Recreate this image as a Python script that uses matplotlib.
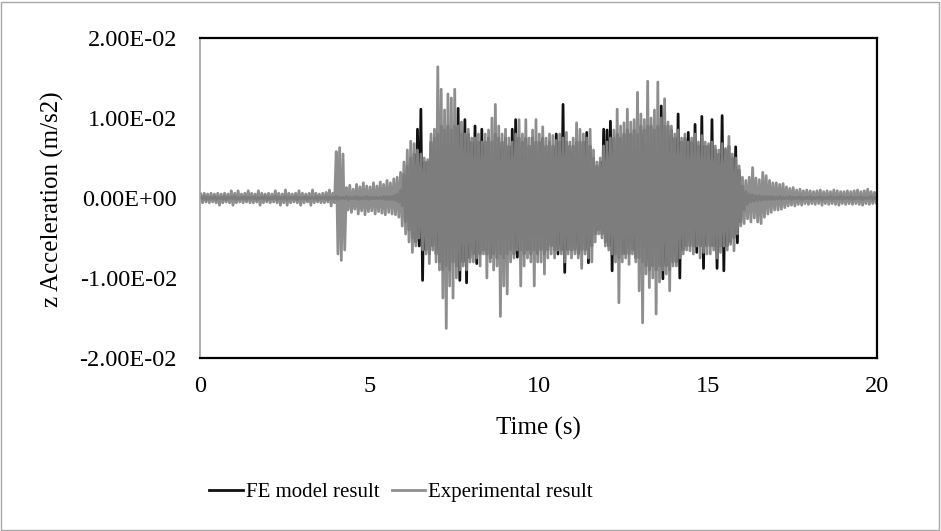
import numpy as np
import matplotlib
matplotlib.use("Agg")
import matplotlib.pyplot as plt
from matplotlib.patches import Rectangle

# Peak values per 0.1 s window (x 1e-3 m/s2): one up-swing and one down-swing each
exp_up = [
    0.5, 0.6, 0.5, 0.6, 0.5, 0.6, 0.5, 0.6, 0.5, 0.9,
    0.6, 0.9, 0.5, 0.6, 0.9, 0.6, 0.5, 0.9, 0.6, 0.5,
    0.6, 0.5, 0.9, 0.6, 0.5, 1.0, 0.6, 0.5, 0.6, 0.9,
    0.6, 0.5, 0.6, 1.0, 0.6, 0.5, 0.6, 0.7, 1.0, 0.6,
    5.8, 6.3, 5.5, 1.3, 1.6, 1.1, 1.7, 1.4, 1.9, 1.5,
    1.4, 1.9, 1.5, 2.0, 1.7, 2.2, 1.9, 2.4, 2.6, 3.2,
    4.5, 6.0, 7.1, 6.8, 6.0, 5.5, 5.0, 4.8, 8.0, 8.6,
    16.4, 13.6, 11.0, 13.0, 12.5, 13.6, 9.0, 9.5, 8.0, 8.6,
    7.5, 7.5, 8.0, 7.0, 8.0, 8.5, 10.0, 11.7, 9.0, 8.0,
    8.6, 7.5, 7.0, 8.0, 9.8, 8.0, 9.8, 7.5, 8.5, 9.8,
    8.0, 8.9, 7.5, 8.0, 7.8, 7.2, 8.0, 7.5, 8.2, 7.0,
    7.5, 9.4, 8.6, 8.0, 7.5, 8.6, 6.0, 4.5, 5.0, 6.5,
    7.0, 7.5, 8.5, 11.1, 9.0, 9.4, 11.1, 9.5, 9.8, 13.2,
    10.5, 9.8, 14.6, 10.0, 11.0, 14.5, 10.0, 12.4, 9.5, 9.0,
    8.0, 8.5, 7.5, 8.0, 7.0, 7.5, 8.0, 7.0, 7.8, 7.0,
    6.8, 7.0, 6.5, 6.0, 6.8, 6.2, 7.7, 5.5, 5.0, 4.0,
    2.6, 2.2, 2.6, 3.8, 2.5, 2.3, 3.2, 2.8, 2.2, 1.9,
    1.9, 1.7, 1.8, 1.4, 1.2, 1.3, 1.0, 1.1, 0.9, 1.0,
    0.9, 0.8, 0.9, 1.0, 0.8, 0.9, 0.8, 1.0, 0.9, 0.8,
    0.8, 0.9, 0.8, 0.9, 1.0, 0.8, 0.9, 1.1, 0.8, 0.7,
]
exp_dn = [
    -0.6, -0.5, -0.6, -0.5, -0.6, -0.9, -0.6, -0.5, -0.6, -0.9,
    -0.6, -0.5, -0.6, -0.5, -0.6, -0.6, -0.5, -0.9, -0.6, -0.5,
    -0.6, -0.5, -0.6, -0.9, -0.6, -0.9, -0.6, -0.5, -0.6, -0.9,
    -0.6, -0.5, -0.9, -0.6, -0.5, -0.6, -0.6, -0.5, -1.0, -0.6,
    -7.0, -7.8, -6.5, -1.5, -1.8, -1.4, -2.0, -1.6, -2.1, -1.7,
    -1.6, -2.0, -1.7, -1.9, -2.1, -1.8, -2.0, -2.1, -2.4, -3.5,
    -4.5, -5.5, -6.8, -6.0, -5.0, -6.5, -7.0, -8.2, -6.5, -8.0,
    -9.0, -12.5, -16.3, -11.0, -12.5, -10.0, -9.0, -8.5, -9.0, -8.0,
    -8.0, -7.5, -8.5, -7.0, -10.0, -8.0, -9.0, -8.5, -14.8, -11.0,
    -12.0, -8.0, -7.5, -6.5, -11.0, -8.5, -7.5, -8.0, -11.0, -8.0,
    -8.0, -9.5, -7.5, -7.0, -7.5, -6.5, -7.0, -8.0, -7.0, -7.5,
    -7.0, -7.5, -8.8, -7.0, -7.5, -8.0, -5.5, -4.5, -5.0, -6.0,
    -6.5, -7.0, -8.0, -13.1, -8.0, -7.5, -8.3, -7.0, -8.0, -11.6,
    -15.6, -9.5, -11.2, -10.0, -14.5, -10.5, -9.0, -9.5, -11.6, -8.5,
    -8.5, -7.5, -7.0, -6.5, -6.6, -7.0, -6.0, -7.5, -6.8, -7.0,
    -7.0, -6.5, -7.5, -6.8, -6.0, -6.5, -5.8, -6.6, -4.5, -3.5,
    -3.2, -2.6, -3.0, -2.5, -3.0, -3.2, -2.4, -2.0, -1.8, -1.5,
    -1.5, -1.4, -1.2, -1.0, -0.9, -1.0, -0.8, -0.9, -0.7, -0.8,
    -0.7, -0.8, -0.7, -0.9, -0.7, -0.8, -0.7, -0.8, -0.9, -0.7,
    -0.8, -0.7, -0.8, -0.7, -0.8, -0.9, -0.7, -0.8, -0.7, -0.6,
]
fe_up = [
    0.1, 0.2, 0.1, 0.1, 0.2, 0.1, 0.1, 0.2, 0.1, 0.1,
    0.2, 0.1, 0.1, 0.2, 0.1, 0.1, 0.2, 0.1, 0.1, 0.2,
    0.1, 0.1, 0.2, 0.1, 0.1, 0.2, 0.1, 0.1, 0.2, 0.1,
    0.1, 0.2, 0.1, 0.1, 0.2, 0.1, 0.1, 0.2, 0.1, 0.1,
    0.2, 0.1, 0.1, 0.2, 0.1, 0.1, 0.2, 0.1, 0.1, 0.2,
    0.1, 0.1, 0.1, 0.1, 0.2, 0.2, 0.2, 0.3, 0.5, 1.0,
    3.0, 4.0, 5.0, 5.5, 8.6, 11.1, 4.5, 4.5, 7.0, 7.5,
    8.0, 9.0, 8.5, 9.0, 8.5, 9.0, 11.2, 8.0, 9.8, 8.0,
    7.0, 9.0, 7.0, 8.6, 7.0, 7.5, 7.0, 8.0, 7.5, 7.0,
    7.5, 6.5, 8.6, 9.8, 7.5, 7.0, 7.5, 6.5, 7.5, 7.0,
    7.0, 7.5, 6.5, 7.0, 6.5, 8.0, 7.0, 11.7, 7.0, 6.5,
    6.5, 7.0, 7.0, 7.0, 8.2, 6.5, 5.0, 4.0, 4.5, 8.6,
    8.5, 9.6, 7.5, 8.0, 7.5, 8.0, 8.5, 8.0, 8.5, 8.0,
    9.0, 8.5, 9.0, 9.0, 8.5, 9.0, 11.5, 9.0, 9.0, 8.5,
    7.5, 10.5, 7.0, 7.5, 8.2, 7.0, 9.2, 6.5, 10.2, 6.5,
    6.5, 9.8, 6.0, 5.5, 10.3, 6.0, 6.5, 5.0, 6.4, 3.5,
    1.5, 0.8, 0.5, 0.4, 0.3, 0.3, 0.2, 0.2, 0.2, 0.2,
    0.1, 0.2, 0.1, 0.1, 0.2, 0.1, 0.1, 0.2, 0.1, 0.1,
    0.2, 0.1, 0.1, 0.2, 0.1, 0.1, 0.2, 0.1, 0.1, 0.2,
    0.1, 0.1, 0.2, 0.1, 0.1, 0.2, 0.1, 0.1, 0.2, 0.1,
]
fe_dn = [
    -0.1, -0.2, -0.1, -0.1, -0.2, -0.1, -0.1, -0.2, -0.1, -0.1,
    -0.2, -0.1, -0.1, -0.2, -0.1, -0.1, -0.2, -0.1, -0.1, -0.2,
    -0.1, -0.1, -0.2, -0.1, -0.1, -0.2, -0.1, -0.1, -0.2, -0.1,
    -0.1, -0.2, -0.1, -0.1, -0.2, -0.1, -0.1, -0.2, -0.1, -0.1,
    -0.2, -0.1, -0.1, -0.2, -0.1, -0.1, -0.2, -0.1, -0.1, -0.2,
    -0.1, -0.1, -0.1, -0.1, -0.2, -0.2, -0.2, -0.3, -0.5, -1.0,
    -3.0, -4.0, -5.0, -5.5, -6.0, -10.3, -6.5, -7.0, -6.0, -7.0,
    -8.0, -9.0, -8.5, -9.0, -8.0, -8.5, -10.3, -8.0, -10.6, -7.5,
    -7.0, -8.2, -7.0, -6.5, -7.0, -7.5, -7.0, -7.5, -7.0, -7.5,
    -7.0, -6.5, -7.0, -7.4, -6.5, -7.0, -6.5, -7.0, -6.5, -7.0,
    -6.5, -7.0, -6.5, -6.0, -6.5, -7.0, -6.5, -9.3, -6.5, -6.5,
    -6.5, -7.0, -6.5, -6.5, -8.1, -6.0, -4.5, -4.0, -4.5, -5.5,
    -6.0, -9.1, -7.0, -7.5, -7.0, -7.0, -7.0, -6.5, -7.5, -7.5,
    -8.0, -8.5, -9.0, -8.5, -9.0, -8.5, -10.1, -8.5, -9.0, -8.0,
    -8.0, -10.0, -6.5, -6.0, -6.0, -6.0, -6.8, -6.0, -8.8, -6.0,
    -6.0, -6.0, -8.8, -6.0, -9.1, -6.0, -5.5, -5.0, -5.6, -3.0,
    -1.5, -0.8, -0.5, -0.4, -0.3, -0.3, -0.2, -0.2, -0.2, -0.2,
    -0.1, -0.2, -0.1, -0.1, -0.2, -0.1, -0.1, -0.2, -0.1, -0.1,
    -0.2, -0.1, -0.1, -0.2, -0.1, -0.1, -0.2, -0.1, -0.1, -0.2,
    -0.1, -0.1, -0.2, -0.1, -0.1, -0.2, -0.1, -0.1, -0.2, -0.1,
]

x_ticks = [0, 5, 10, 15, 20]
y_ticks = [-0.02, -0.01, 0.0, 0.01, 0.02]

WIN = 0.1  # seconds per window


def to_trace(up, dn):
    # up-swing in the first half of each window, down-swing in the second
    start = np.arange(len(up)) * WIN
    t = np.column_stack([start + WIN * 0.25, start + WIN * 0.75]).ravel()
    a = np.column_stack([up, dn]).ravel() * 1e-3
    return t, a


t_fe, a_fe = to_trace(fe_up, fe_dn)
t_exp, a_exp = to_trace(exp_up, exp_dn)

plt.rcParams["font.family"] = ["Liberation Serif", "DejaVu Serif"]

fig = plt.figure(figsize=(9.41, 5.31), dpi=100)
ax = fig.add_axes([200 / 941, 1 - 358 / 531, 677 / 941, 320 / 531])

ax.plot(t_fe, a_fe, color="#111111", lw=2.0, label="FE model result")
# slightly see-through so the FE trace darkens the middle of the band
ax.plot(t_exp, a_exp, color="#868686", alpha=0.93, lw=2.0, label="Experimental result")

ax.set_xlim(0, 20)
ax.set_ylim(-0.02, 0.02)
ax.set_xticks(x_ticks)
ax.set_yticks(y_ticks)
ax.set_yticklabels(["%.2E" % v for v in y_ticks])
ax.tick_params(axis="both", length=0, labelsize=17.5)
ax.tick_params(axis="x", pad=13)
ax.tick_params(axis="y", pad=16.5)

for side in ["top", "right", "bottom"]:
    ax.spines[side].set_color("black")
    ax.spines[side].set_linewidth(1.6)
ax.spines["left"].set_color("#a0a0a0")
ax.spines["left"].set_linewidth(1.2)

fig.text(538 / 941, 1 - 428 / 531, "Time (s)", ha="center", va="center", fontsize=18)
fig.text(52 / 941, 1 - 199 / 531, "z Acceleration (m/s2)", ha="center", va="center",
         rotation=90, fontsize=18)

fig.legend(loc="center", bbox_to_anchor=(401 / 941, 1 - 492 / 531), ncol=2,
           frameon=False, fontsize=15, handlelength=1.6, handletextpad=0.15,
           columnspacing=0.6)

# thin frame round the whole chart
fig.patches.append(Rectangle((0.001, 0.002), 0.997, 0.995, transform=fig.transFigure,
                             fill=False, ec="#a8a8a8", lw=1.0))

fig.savefig("out.png", dpi=100)
